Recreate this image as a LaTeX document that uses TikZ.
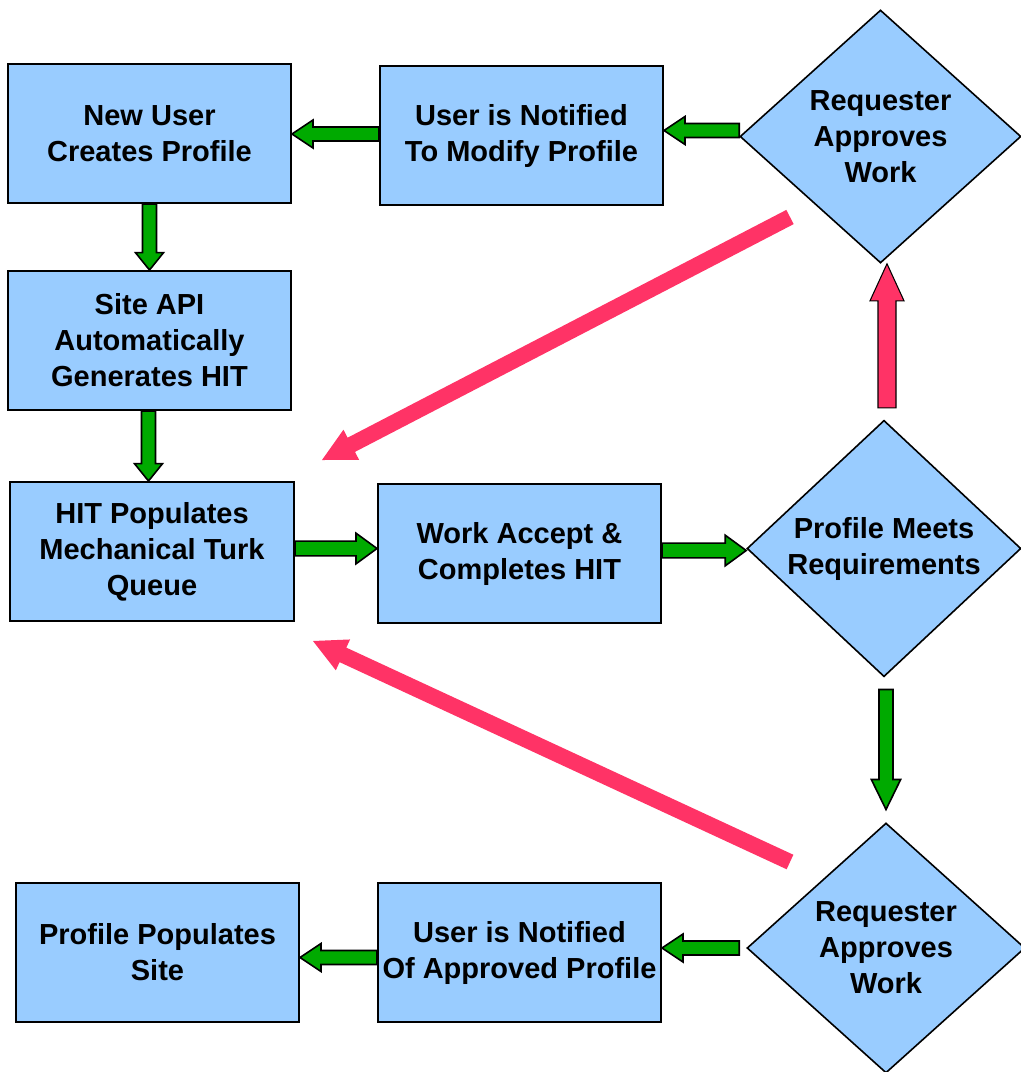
\documentclass[tikz,border=0pt]{standalone}
\usepackage{fontspec}
\setmainfont{Liberation Sans}
\usetikzlibrary{calc,shapes.geometric}
\definecolor{boxblue}{HTML}{99CCFF}
\definecolor{arrgreen}{HTML}{00AA00}
\definecolor{arrred}{HTML}{FF3366}
% #1 style, #2 start, #3 tip, #4 half shaft, #5 half head, #6 head length
\newcommand\blockarr[6]{%
  \coordinate (ba-base) at ($(#3)!#6!(#2)$);
  \path[#1] ($(#2)!#4!90:(#3)$) -- ($(ba-base)!#4!90:(#3)$) -- ($(ba-base)!#5!90:(#3)$)
    -- (#3) -- ($(ba-base)!#5!-90:(#3)$) -- ($(ba-base)!#4!-90:(#3)$)
    -- ($(#2)!#4!-90:(#3)$) -- cycle;}
\begin{document}
\begin{tikzpicture}[x=0.75pt,y=-0.75pt,
  every node/.style={font=\bfseries\fontsize{21.75pt}{27pt}\selectfont, align=center, inner sep=0pt},
  procbox/.style={rectangle, draw=black, line width=1.5pt, fill=boxblue,
    minimum width=212.25pt, minimum height=104.25pt},
  decbox/.style={diamond, draw=black, line width=1.2pt, fill=boxblue, aspect=1},
  greenarr/.style={fill=arrgreen, draw=black, line width=1.2pt, line join=miter},
  redarr/.style={fill=arrred, draw=black, line width=0.8pt, line join=miter},
  reddiag/.style={fill=arrred}]
\useasboundingbox (0,0) rectangle (1021,1072);

\node[procbox] (A) at (149.5,133.5) {New User\\Creates Profile};
\node[procbox] (B) at (521.5,135.5) {User is Notified\\To Modify Profile};
\node[decbox, minimum width=210.75pt, minimum height=189.75pt] (D1) at (880.5,136.5) {Requester\\Approves\\Work};
\node[procbox] (C) at (149.5,340.5) {Site API\\Automatically\\Generates HIT};
\node[procbox, minimum width=213pt] (E) at (152,551.5) {HIT Populates\\Mechanical Turk\\Queue};
\node[procbox] (F) at (519.5,553.5) {Work Accept \&\\Completes HIT};
\node[decbox, minimum width=205.5pt, minimum height=189.75pt] (D2) at (884,548.5) {Profile Meets\\Requirements};
\node[decbox, minimum width=208.5pt, minimum height=187.5pt] (D3) at (886,948) {Requester\\Approves\\Work};
\node[procbox] (G) at (157.5,952.5) {Profile Populates\\Site};
\node[procbox] (H) at (519.5,952.5) {User is Notified\\Of Approved Profile};

% green arrows
\coordinate (g1s) at ($(B.west)+(0,-1.5)$);
\coordinate (g1e) at (g1s -| A.east);
\blockarr{greenarr}{g1s}{g1e}{5.25pt}{10.5pt}{15.75pt}
\coordinate (g2s) at ($(D1.west)+(0,-6)$);
\coordinate (g2e) at (g2s -| B.east);
\blockarr{greenarr}{g2s}{g2e}{5.25pt}{10.5pt}{15.75pt}
\blockarr{greenarr}{A.south}{C.north}{5.25pt}{10.5pt}{13pt}
\coordinate (g4s) at ($(C.south)+(-1,0)$);
\coordinate (g4e) at (g4s |- E.north);
\blockarr{greenarr}{g4s}{g4e}{5.25pt}{10.5pt}{13pt}
\coordinate (g5s) at ($(E.east)+(0,-3)$);
\coordinate (g5e) at (g5s -| F.west);
\blockarr{greenarr}{g5s}{g5e}{5.5pt}{11.5pt}{15.75pt}
\coordinate (g6s) at ($(F.east)+(0,-3)$);
\coordinate (g6e) at (g6s -| D2.west);
\blockarr{greenarr}{g6s}{g6e}{5.5pt}{11.5pt}{15.75pt}
\coordinate (g7s) at ($(D2.south)+(2,12)$);
\coordinate (g7e) at ($(D2.south)+(2,132)$);
\blockarr{greenarr}{g7s}{g7e}{5.25pt}{11pt}{22.5pt}
\coordinate (g8s) at ($(D3.west)+(-7,0)$);
\coordinate (g8e) at (g8s -| H.east);
\blockarr{greenarr}{g8s}{g8e}{5.25pt}{10.5pt}{15.75pt}
\coordinate (g9s) at ($(H.west)+(0,5)$);
\coordinate (g9e) at (g9s -| G.east);
\blockarr{greenarr}{g9s}{g9e}{5.25pt}{10.5pt}{15.75pt}

% red arrows
\coordinate (r1s) at ($(D1.south)+(6.5,144)$);
\coordinate (r1e) at ($(D1.south)+(6.5,0)$);
\blockarr{redarr}{r1s}{r1e}{6.75pt}{12.75pt}{27.75pt}
\coordinate (r2s) at (790,217);
\coordinate (r2e) at ($(E.north east)+(27,-21)$);
\blockarr{reddiag}{r2s}{r2e}{6pt}{12.75pt}{24.75pt}
\coordinate (r3s) at (790,862);
\coordinate (r3e) at ($(E.south east)+(18,19)$);
\blockarr{reddiag}{r3s}{r3e}{6pt}{12.75pt}{24.75pt}
\end{tikzpicture}
\end{document}
